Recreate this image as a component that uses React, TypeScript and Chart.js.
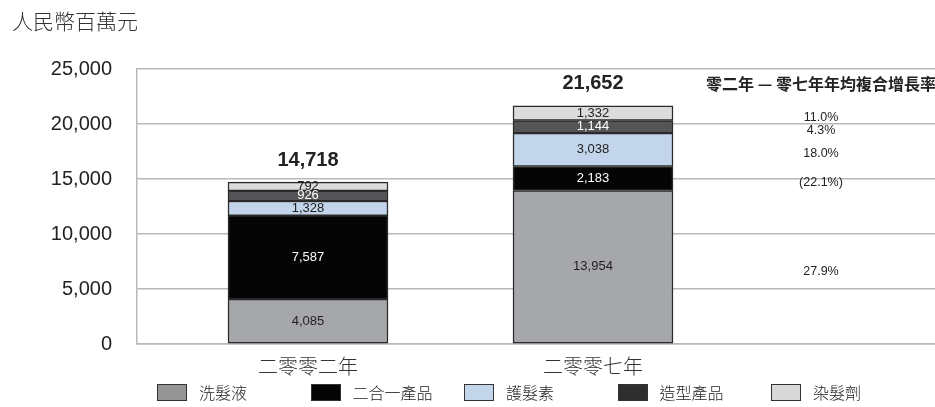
import React, { useEffect, useRef } from 'react';
import { Chart, registerables } from 'chart.js';

Chart.register(...registerables);

// ---- data ----
const unitLabel = '人民幣百萬元';
const categories = ['二零零二年', '二零零七年'];
const seriesNames = ['洗髮液', '二合一產品', '護髮素', '造型產品', '染髮劑'];
const shampoo = [4085, 13954];
const twoInOne = [7587, 2183];
const conditioner = [1328, 3038];
const styling = [926, 1144];
const hairColour = [792, 1332];
const totals = ['14,718', '21,652'];
const cagrHeader = '零二年 — 零七年年均複合增長率';
const cagr = ['27.9%', '(22.1%)', '18.0%', '4.3%', '11.0%'];
const yTicks = [0, 5000, 10000, 15000, 20000, 25000];

const series = [shampoo, twoInOne, conditioner, styling, hairColour];

// ---- styles ----
const barColors = ['#a6a7ab', '#050505', '#c3d5ea', '#555558', '#dcdcdc'];
const legendColors = ['#959595', '#050505', '#c3d5ea', '#2e2e2e', '#d9d9d9'];
const valueColors = ['#222', '#fff', '#222', '#fff', '#222'];
const CJK = '"Noto Sans CJK TC", "Noto Sans CJK SC", sans-serif';
const LAT = '"Liberation Sans", Arial, Helvetica, sans-serif';
const CAGR_COLUMN = 1.8; // position on the x axis (category units)

const annotate = {
  id: 'annotate',
  afterDatasetsDraw(chart: any) {
    const { ctx, scales } = chart;
    const xs = scales.x;
    const ys = scales.y;
    ctx.save();
    ctx.textAlign = 'center';
    ctx.textBaseline = 'middle';

    // segment values
    chart.data.datasets.forEach((_ds: any, di: number) => {
      const meta = chart.getDatasetMeta(di);
      meta.data.forEach((el: any, i: number) => {
        const p = el.getProps(['x', 'y', 'base'], true);
        ctx.fillStyle = valueColors[di];
        ctx.font = `13px ${LAT}`;
        ctx.fillText(series[di][i].toLocaleString('en-US'), p.x, (p.y + p.base) / 2);
      });
    });

    // totals
    categories.forEach((_c, i) => {
      const sum = series.reduce((a, s) => a + s[i], 0);
      ctx.fillStyle = '#222';
      ctx.font = `bold 20px ${LAT}`;
      ctx.fillText(totals[i], xs.getPixelForValue(i), ys.getPixelForValue(sum) - 22);
    });

    // CAGR column
    const last = categories.length - 1;
    const lastSum = series.reduce((a, s) => a + s[last], 0);
    const cx = xs.getPixelForValue(CAGR_COLUMN);
    ctx.fillStyle = '#222';
    ctx.font = `bold 16px ${CJK}`;
    ctx.fillText(cagrHeader, cx, ys.getPixelForValue(lastSum) - 22);
    let cum = 0;
    ctx.font = `12.5px ${LAT}`;
    series.forEach((s, di) => {
      const mid = cum + s[last] / 2;
      cum += s[last];
      ctx.fillText(cagr[di], cx, ys.getPixelForValue(mid) + 4);
    });

    // unit label
    ctx.textAlign = 'left';
    ctx.fillStyle = '#333';
    ctx.font = `300 21px ${CJK}`;
    ctx.fillText(unitLabel, 12, 21);
    ctx.restore();
  },
};

export default function App() {
  const ref = useRef<HTMLCanvasElement>(null);

  useEffect(() => {
    if (!ref.current) return;
    const chart = new Chart(ref.current, {
      type: 'bar',
      data: {
        datasets: series.map((s, di) => ({
          label: seriesNames[di],
          data: s.map((v, i) => ({ x: i, y: v })),
          backgroundColor: barColors[di],
          borderColor: '#2a2a2a',
          borderWidth: 1.5,
          borderSkipped: false,
          barThickness: 160,
        })),
      },
      options: {
        responsive: false,
        animation: false,
        devicePixelRatio: 1,
        layout: { padding: { top: 69, right: 0, left: 0, bottom: 0 } },
        plugins: {
          legend: { display: false },
          tooltip: { enabled: false },
          title: { display: false },
        },
        scales: {
          x: {
            type: 'linear',
            stacked: true,
            offset: false,
            min: -0.6,
            max: 2.2,
            grid: { display: false },
            border: { display: true, color: '#b8b8b8', width: 1.5 },
            ticks: {
              stepSize: 1,
              autoSkip: false,
              maxRotation: 0,
              padding: 2,
              color: '#333',
              font: { family: CJK, size: 20, weight: '300' },
              callback: (v: any) => (Number.isInteger(v) && categories[v] ? categories[v] : ''),
            },
            afterFit: (scale: any) => {
              scale.height = 63;
              scale.paddingLeft = 0;
              scale.paddingRight = 0;
            },
          },
          y: {
            stacked: true,
            min: yTicks[0],
            max: yTicks[yTicks.length - 1],
            grid: { color: '#b8b8b8', lineWidth: 1.5, drawTicks: false },
            border: { display: true, color: '#b8b8b8', width: 1.5 },
            ticks: {
              stepSize: yTicks[1] - yTicks[0],
              padding: 25,
              color: '#222',
              font: { family: LAT, size: 20 },
              callback: (v: any) => Number(v).toLocaleString('en-US'),
            },
            afterFit: (scale: any) => {
              scale.width = 137;
            },
          },
        },
      },
      plugins: [annotate],
    } as any);
    return () => chart.destroy();
  }, []);

  return (
    <div style={{ position: 'absolute', left: 0, top: 0, width: 935, height: 407, background: '#fff' }}>
      <canvas ref={ref} width={935} height={407} style={{ display: 'block' }} />
      <div
        style={{
          position: 'absolute',
          left: 157,
          top: 383,
          display: 'flex',
          alignItems: 'center',
          height: 18,
        }}
      >
        {seriesNames.map((name, i) => (
          <div key={name} style={{ width: 153.5, display: 'flex', alignItems: 'center' }}>
            <span
              style={{
                display: 'inline-block',
                width: 30,
                height: 17,
                boxSizing: 'border-box',
                background: legendColors[i],
                border: '1px solid #333',
              }}
            />
            <span
              style={{
                marginLeft: 12,
                fontFamily: CJK,
                fontWeight: 300,
                fontSize: 16,
                lineHeight: '18px',
                color: '#222',
              }}
            >
              {name}
            </span>
          </div>
        ))}
      </div>
    </div>
  );
}
